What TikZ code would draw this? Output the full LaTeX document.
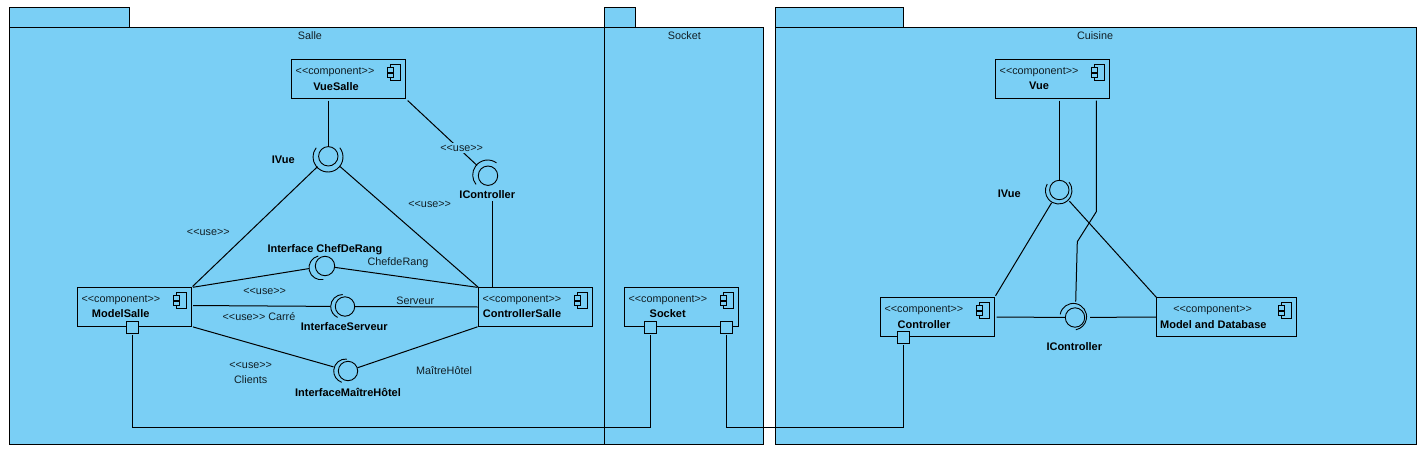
\documentclass[tikz,border=0pt]{standalone}
\usepackage{fontspec}
\setmainfont{Liberation Sans}
\definecolor{pkgblue}{HTML}{7ACFF5}
\tikzset{
  x=1pt,y=-1pt,
  every node/.style={font=\fontsize{10.8}{13}\selectfont,text=black!85!pkgblue,inner sep=0pt,outer sep=0pt},
  pkgbox/.style={draw=black,line width=1pt,fill=pkgblue,anchor=north west,rectangle},
  compbox/.style={draw=black,line width=1pt,fill=pkgblue,rectangle},
  portbox/.style={draw=black,line width=1pt,fill=pkgblue,rectangle,minimum size=12.4pt},
  ballnode/.style={draw=black,line width=0.9pt,circle,minimum size=19.4pt},
  sockarc/.style={draw=black,line width=0.9pt},
  conn/.style={draw=black,line width=1pt},
  lab/.style={yshift=-1pt},
  bname/.style={yshift=-0.8pt,font=\fontsize{11}{13}\selectfont\bfseries,text=black},
  usebg/.style={fill=pkgblue,inner sep=2pt},
  stereo/.style={anchor=west,yshift=-1.8pt}
}
% name, x1, y1, x2, y2, bold title, title centre x, stereotype left x, title y
\newcommand{\compo}[9]{%
  \pgfmathsetmacro{\cw}{#4-#2}\pgfmathsetmacro{\ch}{#5-#3}%
  \pgfmathsetmacro{\mx}{(#2+#4)/2}\pgfmathsetmacro{\my}{(#3+#5)/2}%
  \node[compbox,minimum width=\cw pt,minimum height=\ch pt] (#1) at (\mx,\my) {};
  \node[stereo] (#1-st) at (#8,#3+10.8) {<{}<component>{}>};
  \node[bname] (#1-ti) at (#7,#9) {#6};
  \draw[line width=1pt,fill=pkgblue] (#4-15.4,#3+5) rectangle (#4-5,#3+21);
  \draw[line width=1pt,fill=pkgblue] (#4-18.3,#3+8.3) rectangle (#4-11.7,#3+13);
  \draw[line width=1pt,fill=pkgblue] (#4-18.3,#3+13.7) rectangle (#4-11.7,#3+18.2);
}
% name, ball x, ball y, arc x, arc y, r, start, end
\newcommand{\lolli}[8]{%
  \node[ballnode] (#1) at (#2,#3) {};
  \draw[sockarc] (#4,#5) ++(#7:#6) arc[start angle=#7,end angle=#8,radius=#6];
}
\begin{document}
\begin{tikzpicture}
\useasboundingbox (0,0) rectangle (1424,450);
% packages
\node[pkgbox,minimum width=120pt,minimum height=20pt] (salletab) at (9.5,7.5) {};
\node[pkgbox,minimum width=595pt,minimum height=417pt] (salle) at (9.5,27.5) {};
\node[pkgbox,minimum width=31pt,minimum height=20pt] (socktab) at (604.5,7.5) {};
\node[pkgbox,minimum width=159pt,minimum height=417pt] (sock) at (604.5,27.5) {};
\node[pkgbox,minimum width=128pt,minimum height=20pt] (cuistab) at (775.5,7.5) {};
\node[pkgbox,minimum width=641pt,minimum height=417pt] (cuis) at (775.5,27.5) {};
\node[lab] (t-salle) at (310,35) {Salle};
\node[lab] (t-sock) at (684.3,35) {Socket};
\node[lab] (t-cuis) at (1095,35) {Cuisine};
% components
\compo{vuesalle}{291.5}{59.5}{405.5}{98.5}{VueSalle}{336}{295.7}{85.3}
\compo{modelsalle}{77.5}{287.5}{191.5}{326.5}{ModelSalle}{120.7}{81.6}{313}
\compo{ctrlsalle}{478.5}{287.5}{592.5}{326.5}{ControllerSalle}{522}{482.6}{313}
\compo{socketc}{624.5}{287.5}{738.5}{326.5}{Socket}{667.7}{628.6}{313}
\compo{vuec}{995.5}{59.5}{1109.5}{98.5}{Vue}{1039}{999.7}{85}
\compo{ctrlc}{880.5}{297.5}{994.5}{336.5}{Controller}{924}{884.6}{323.3}
\compo{modelc}{1156.5}{297.5}{1296.5}{336.5}{Model and Database}{1213.3}{1173.3}{323.3}
% connectors, Salle
\coordinate (ivue) at (328.3,156.3);
\coordinate (ictrl) at (488,175.7);
\coordinate (ichef) at (325,266);
\coordinate (iserv) at (345,306.5);
\coordinate (ihot) at (348,371);
\draw[conn,shorten <=2pt,shorten >=10pt] (ivue |- vuesalle.south) -- (ivue);
\draw[conn,shorten <=3pt,shorten >=15pt] (vuesalle.south east) -- (ictrl);
\draw[conn,shorten >=15pt,shorten <=1.5pt] (modelsalle.north east) -- (ivue);
\draw[conn,shorten >=15pt] (ctrlsalle.north west) -- (ivue);
\draw[conn,shorten >=16pt,shorten <=1.5pt] (modelsalle.north east) -- (ichef);
\draw[conn,shorten >=10pt,shorten <=1pt] (ctrlsalle.north west) -- (ichef);
\draw[conn,shorten <=1.5pt,shorten >=15pt] (modelsalle.east) ++(0,-1.5) coordinate (mse) -- (iserv);
\draw[conn,shorten >=10pt,shorten <=1pt] (ctrlsalle.west) -- (iserv);
\draw[conn,shorten >=15pt,shorten <=1.5pt] (modelsalle.south east) -- (ihot);
\draw[conn,shorten >=10pt,shorten <=1pt] (ctrlsalle.south west) -- (ihot);
\draw[conn,shorten <=1pt,shorten >=25.5pt] (ictrl |- ctrlsalle.north) ++(4.3,0) coordinate (ctn) -- (ctn |- ictrl);
% connectors, Cuisine
\coordinate (ivuec) at (1059.3,190);
\coordinate (ictrlc) at (1075,317.5);
\coordinate (bendb) at (1096.3,211.7);
\coordinate (bendc) at (1077.3,241.7);
\draw[conn,shorten <=2pt,shorten >=10pt] (ivuec |- vuec.south) -- (ivuec);
\draw[conn,shorten <=2pt] (bendb |- vuec.south) -- (bendb) -- (bendc) -- (1075.7,301.7);
\draw[conn,shorten <=2pt,shorten >=15pt] (ctrlc.north east) -- (ivuec);
\draw[conn,shorten <=0pt,shorten >=15pt] (modelc.north west) -- (ivuec);
\draw[conn,shorten <=2pt,shorten >=10pt] (ctrlc.east) -- (ictrlc);
\draw[conn,shorten >=15pt] (modelc.west) -- (ictrlc);
% interfaces
\lolli{ivue-b}{328.3}{156.3}{328}{157}{15}{-38}{218}
\lolli{ictrl-b}{488}{175.7}{487.7}{175}{15}{-54}{-219}
\lolli{ichef-b}{325}{266}{321}{267.7}{12}{-103}{-281}
\lolli{iserv-b}{345}{306.5}{342.7}{306.5}{12}{-90}{-245}
\lolli{ihot-b}{348}{371}{345.7}{371}{12}{-85}{-251}
\lolli{ivuec-b}{1059.3}{190}{1058.7}{190.7}{13.3}{-40}{210}
\lolli{ictrlc-b}{1075}{317.5}{1073.3}{316.7}{13.3}{190}{439}
% labels
\node[bname] (l-ivue) at (283.3,159.3) {IVue};
\node[bname] (l-ictrl) at (487.3,194) {IController};
\node[lab,usebg] (l-u1) at (461.7,147) {<{}<use>{}>};
\node[lab] (l-u2) at (429.7,203.3) {<{}<use>{}>};
\node[lab] (l-u3) at (208.3,231.3) {<{}<use>{}>};
\node[lab] (l-u4) at (264.7,290.3) {<{}<use>{}>};
\node[bname] (l-chef) at (325,249.3) {Interface ChefDeRang};
\node[lab] (l-chef2) at (398,261.7) {ChefdeRang};
\node[lab] (l-serv2) at (415.3,300) {Serveur};
\node[lab] (l-carre) at (259,316) {<{}<use>{}> Carré};
\node[bname] (l-serv) at (344.3,325.3) {InterfaceServeur};
\node[lab] (l-u5) at (250.7,364.3) {<{}<use>{}>};
\node[lab] (l-cli) at (250.7,379) {Clients};
\node[lab] (l-hot2) at (444,370) {MaîtreHôtel};
\node[bname] (l-hot) at (348,391.3) {InterfaceMaîtreHôtel};
\node[bname] (l-ivuec) at (1009.3,193.3) {IVue};
\node[bname] (l-ictrlc) at (1074.3,346) {IController};
% ports and their links
\node[portbox] (pm) at (132.5,327.5) {};
\node[portbox] (ps1) at (650.5,327.5) {};
\node[portbox] (ps2) at (726.5,327.5) {};
\node[portbox] (pc) at (903.5,337.5) {};
\coordinate (busa) at (400,427.5);
\coordinate (busb) at (800,427.5);
\draw[conn,shorten <=1pt,shorten >=1pt] (pm.south) |- (busa) -| (ps1.south);
\draw[conn,shorten <=1pt,shorten >=1pt] (ps2.south) |- (busb) -| (pc.south);
\end{tikzpicture}
\end{document}
